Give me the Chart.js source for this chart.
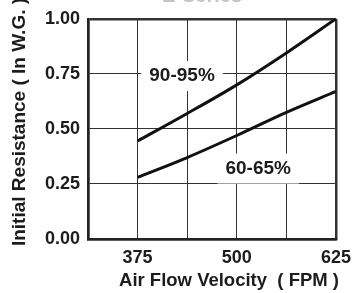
<!DOCTYPE html>
<html>
<head>
<meta charset="utf-8">
<script src="https://cdn.jsdelivr.net/npm/chart.js@4"></script>
<style>
  body { margin: 0; background: #fff; }
  canvas { display: block; }
</style>
</head>
<body>
<canvas id="resistanceChart" width="359" height="293"></canvas>
<script>
// air flow velocity (FPM) and initial resistance (in W.G.)
var velocity = [375, 437.5, 500, 562.5, 625];
var eff9095 = [0.445, 0.57, 0.70, 0.845, 1.0];
var eff6065 = [0.28, 0.37, 0.47, 0.575, 0.67];
var xTickLabels = [375, 500, 625];
var yTickLabels = [0, 0.25, 0.5, 0.75, 1];

var FONT = "'Liberation Sans', Arial, sans-serif";
var INK = '#1c1c1c';

function toPoints(ys) {
    return velocity.map(function (v, i) { return { x: v, y: ys[i] }; });
}

// text labels that sit on the curves, with a white box behind them
var curveLabels = {
    id: 'curveLabels',
    afterDatasetsDraw: function (chart) {
        var ctx = chart.ctx;
        var xs = chart.scales.x, ys = chart.scales.y;
        var items = [
            { text: '90-95%', x: 431, y: 0.74 },
            { text: '60-65%', x: 527, y: 0.32 }
        ];
        ctx.save();
        ctx.font = 'bold 19px ' + FONT;
        ctx.textAlign = 'center';
        ctx.textBaseline = 'middle';
        items.forEach(function (it) {
            var px = xs.getPixelForValue(it.x);
            var py = ys.getPixelForValue(it.y);
            var w = ctx.measureText(it.text).width;
            ctx.fillStyle = '#fff';
            ctx.fillRect(px - w / 2 - 8, py - 15, w + 16, 30);
            ctx.fillStyle = INK;
            ctx.fillText(it.text, px, py);
        });
        ctx.restore();
    }
};

// axis titles and the faint heading cut off at the top
var titles = {
    id: 'titles',
    afterDraw: function (chart) {
        var ctx = chart.ctx;
        ctx.save();
        ctx.font = 'bold 20px ' + FONT;
        ctx.fillStyle = '#c4c4c4';
        ctx.textAlign = 'center';
        ctx.textBaseline = 'alphabetic';
        ctx.fillText('E-Series', 202, 2);

        ctx.fillStyle = INK;
        ctx.textBaseline = 'middle';
        ctx.font = 'bold 18.5px ' + FONT;
        ctx.fillText('Air Flow Velocity  ( FPM )', 229, 281);

        ctx.translate(20, 122);
        ctx.rotate(-Math.PI / 2);
        ctx.font = 'bold 19px ' + FONT;
        ctx.fillText('Initial Resistance ( In W.G. )', 0, 0);
        ctx.restore();
    }
};

function gridWidth(edgeA, edgeB) {
    return function (c) {
        if (!c.tick) return 1;
        return (c.tick.value === edgeA || c.tick.value === edgeB) ? 2.5 : 1;
    };
}

new Chart('resistanceChart', {
    type: 'line',
    data: {
        datasets: [{
            label: '90-95%',
            data: toPoints(eff9095),
            borderColor: '#111',
            borderWidth: 3,
            pointRadius: 0,
            cubicInterpolationMode: 'monotone',
            fill: false
        }, {
            label: '60-65%',
            data: toPoints(eff6065),
            borderColor: '#111',
            borderWidth: 3,
            pointRadius: 0,
            cubicInterpolationMode: 'monotone',
            fill: false
        }]
    },
    options: {
        responsive: false,
        animation: false,
        layout: { padding: { top: 18, right: 12, left: 0, bottom: 0 } },
        plugins: {
            legend: { display: false },
            title: { display: false },
            tooltip: { enabled: false }
        },
        scales: {
            x: {
                type: 'linear',
                min: 312.5,
                max: 625,
                afterFit: function (s) { s.height = 54; },
                afterBuildTicks: function (s) {
                    s.ticks = [312.5, 375, 437.5, 500, 562.5, 625].map(function (v) { return { value: v }; });
                },
                ticks: {
                    padding: 8,
                    color: INK,
                    font: { family: FONT, size: 18, weight: 'bold' },
                    maxRotation: 0,
                    autoSkip: false,
                    callback: function (v) {
                        return xTickLabels.indexOf(v) >= 0 ? String(v) : '';
                    }
                },
                grid: {
                    color: '#333',
                    lineWidth: gridWidth(312.5, 625),
                    drawTicks: false
                },
                border: { color: '#222', width: 2.5 }
            },
            y: {
                min: 0,
                max: 1,
                afterFit: function (s) { s.width = 88; },
                ticks: {
                    stepSize: 0.25,
                    padding: 8,
                    color: INK,
                    font: { family: FONT, size: 18, weight: 'bold' },
                    callback: function (v) {
                        return yTickLabels.indexOf(v) >= 0 ? v.toFixed(2) : '';
                    }
                },
                grid: {
                    color: '#333',
                    lineWidth: gridWidth(0, 1),
                    drawTicks: false
                },
                border: { color: '#222', width: 2.5 }
            }
        }
    },
    plugins: [curveLabels, titles]
});
</script>
</body>
</html>
